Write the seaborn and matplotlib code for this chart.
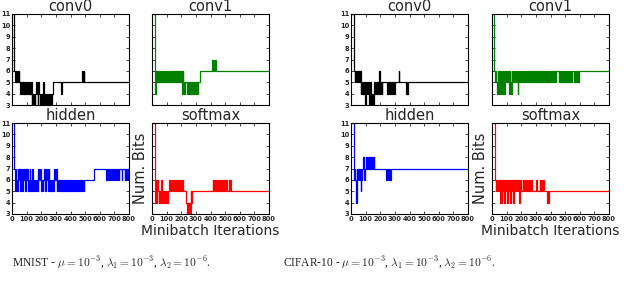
import matplotlib
matplotlib.use('Agg')
import matplotlib.pyplot as plt
import seaborn as sns
import pandas as pd
import numpy as np

# bits per layer, sampled every 5 minibatch iterations (0..800), hex digits (B = 11)
iterations = np.arange(0, 805, 5)
layers = ['conv0', 'conv1', 'hidden', 'softmax']
layer_colors = ['#000000', '#008000', '#0000ff', '#ff0000']

mnist_conv0 = ("BBB65656565454545454" "54545453434345435434"
               "34353434343434345555" "55555554555555555555"
               "55555555555555556565" "55555555555555555555"
               "55555555555555555555" "55555555555555555555" "5")
mnist_conv1 = ("BBBB4656565656565656" "65656565656565656565"
               "64654555454545454545" "45455666666666666666"
               "66767676666666666666" "66666666666666666666"
               "66666666666666666666" "66666666666666666666" "6")
mnist_hidden = ("BBB75765767576576757" "67567565756565657675"
                "56567576757656565676" "75656565656565656565"
                "56565656565656565656" "66666666666677777777"
                "77777777767676767676" "67676767776777676767" "6")
mnist_softmax = ("BBBB4646545464545454" "54565656565656565656"
                 "65655554343435455555" "55555555555555555555"
                 "55565656565656565656" "56555656555555555555"
                 "55555555555555555555" "55555555555555555555" "5")

cifar_conv0 = ("BBBB6565656564545453" "45454354343454545465"
               "45455555545454545454" "55555655555555545455"
               "55555555555555555555" "55555555555555555555"
               "55555555555555555555" "55555555555555555555" "5")
cifar_conv1 = ("BBB65654646464646465" "65646546565656546565"
               "65656565656565656565" "65656565656566565656"
               "65656565666565656565" "65656565656656565656"
               "66666666666666666666" "66666666666666666666" "6")
cifar_hidden = ("BBBB6764767675677867" "78787878787877777777"
                "77777777676767677777" "77777777777777777777"
                "77777777777777777777" "77777777777777777777"
                "77777777777777777777" "77777777777777777777" "7")
cifar_softmax = ("BBBB6565656464656465" "64656465646565656465"
                 "55656565656565655555" "65555656556555545455"
                 "55555555555555555555" "55555555555555555555"
                 "55555555555555555555" "55555555555555555555" "5")

datasets = {
    'MNIST': [mnist_conv0, mnist_conv1, mnist_hidden, mnist_softmax],
    'CIFAR-10': [cifar_conv0, cifar_conv1, cifar_hidden, cifar_softmax],
}
captions = {
    'MNIST': r'MNIST - $\mu = 10^{-3}$, $\lambda_1 = 10^{-3}$, $\lambda_2 = 10^{-6}$.',
    'CIFAR-10': r'CIFAR-10 - $\mu = 10^{-3}$, $\lambda_1 = 10^{-3}$, $\lambda_2 = 10^{-6}$.',
}

rows = []
for name, series in datasets.items():
    for layer, s in zip(layers, series):
        for it, ch in zip(iterations, s):
            rows.append((name, layer, it, int(ch, 16)))
df = pd.DataFrame(rows, columns=['dataset', 'layer', 'iteration', 'bits'])

sns.set_theme(style='ticks', rc={
    'xtick.direction': 'in', 'ytick.direction': 'in',
    'xtick.top': True, 'ytick.right': True,
    'xtick.major.size': 2.5, 'ytick.major.size': 2.5,
    'xtick.major.width': 0.6, 'ytick.major.width': 0.6,
    'axes.linewidth': 0.8, 'axes.edgecolor': 'black',
})
plt.rcParams['font.family'] = ['DejaVu Sans']
plt.rcParams['mathtext.fontset'] = 'cm'

fig = plt.figure(figsize=(6.4, 2.92), dpi=100)

W, H = 640, 292
col_left = {'MNIST': [12, 152], 'CIFAR-10': [351, 492]}
row_top = [14, 123]
aw, ah = 117, 91

for name in datasets:
    for k, layer in enumerate(layers):
        r, c = divmod(k, 2)
        x0 = col_left[name][c]
        y0 = row_top[r]
        ax = fig.add_axes([x0 / W, 1 - (y0 + ah) / H, aw / W, ah / H])
        sub = df[(df.dataset == name) & (df.layer == layer)]
        sns.lineplot(data=sub, x='iteration', y='bits', color=layer_colors[k],
                     lw=0.9, estimator=None, drawstyle='steps-post', ax=ax)
        ax.set_xlim(0, 800)
        ax.set_ylim(3, 11)
        ax.set_xticks(range(0, 801, 100))
        ax.set_yticks(range(3, 12))
        ax.tick_params(labelsize=5.3, pad=1.2)
        for lab in ax.get_xticklabels() + ax.get_yticklabels():
            lab.set_fontweight('bold')
            lab.set_fontstretch('condensed')
        ax.set_title(layer, fontsize=10.5, pad=1.5)
        ax.set_xlabel('')
        ax.set_ylabel('')
        if r == 0:
            ax.set_xticklabels([])
        if c == 1:
            ax.set_yticklabels([])
        if layer == 'softmax':
            ax.set_xlabel('Minibatch Iterations', fontsize=10, labelpad=1.5)
            ax.set_ylabel('Num. Bits', fontsize=10.5, labelpad=2)

fig.text(12 / W, 1 - 263 / H, captions['MNIST'], fontsize=8.3,
         family='Liberation Serif', ha='left', va='center')
fig.text(283 / W, 1 - 263 / H, captions['CIFAR-10'], fontsize=8.3,
         family='Liberation Serif', ha='left', va='center')

fig.savefig('out.png', dpi=100, facecolor='white')
